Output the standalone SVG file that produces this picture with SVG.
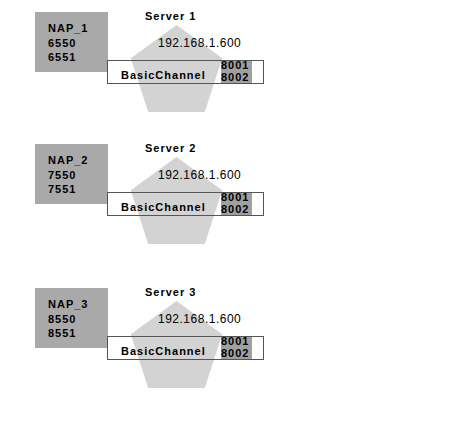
<svg xmlns="http://www.w3.org/2000/svg" width="456" height="423" viewBox="0 0 456 423">
<style>
.nap{fill:#a9a9a9}
.srv{fill:#d3d3d3}
.ch{fill:none;stroke:#555;stroke-width:1}
.port{fill:#a0a0a0}
text{font-family:"Liberation Sans",Arial,sans-serif;font-size:11px;fill:#000;letter-spacing:1px}
.b{font-weight:bold}
.ip{font-size:12px;letter-spacing:0.5px}
</style>
<rect width="456" height="423" fill="#fff"/>
<defs>
<g id="unit">
<rect class="nap" x="35" y="12" width="73" height="60"/>
<polygon class="srv" points="176.5,25 222.2,58.2 204.8,112 148.2,112 130.8,58.2"/>
<rect class="port" x="221" y="60" width="31" height="24"/>
<rect class="ch" x="107.5" y="60.5" width="156" height="23"/>
<text class="b" x="121" y="79">BasicChannel</text>
<text class="ip" x="158" y="47">192.168.1.600</text>
<text class="b" x="221" y="69">8001</text>
<text class="b" x="221" y="81">8002</text>
</g>
</defs>
<g id="server1">
<use href="#unit"/>
<text class="b" x="145" y="20">Server 1</text>
<text class="b" x="48" y="32">NAP_1</text>
<text class="b" x="48" y="46.5">6550</text>
<text class="b" x="48" y="61">6551</text>
</g>
<g id="server2" transform="translate(0,132)">
<use href="#unit"/>
<text class="b" x="145" y="20">Server 2</text>
<text class="b" x="48" y="32">NAP_2</text>
<text class="b" x="48" y="46.5">7550</text>
<text class="b" x="48" y="61">7551</text>
</g>
<g id="server3" transform="translate(0,276)">
<use href="#unit"/>
<text class="b" x="145" y="20">Server 3</text>
<text class="b" x="48" y="32">NAP_3</text>
<text class="b" x="48" y="46.5">8550</text>
<text class="b" x="48" y="61">8551</text>
</g>
<g id="connectors"></g>
</svg>
